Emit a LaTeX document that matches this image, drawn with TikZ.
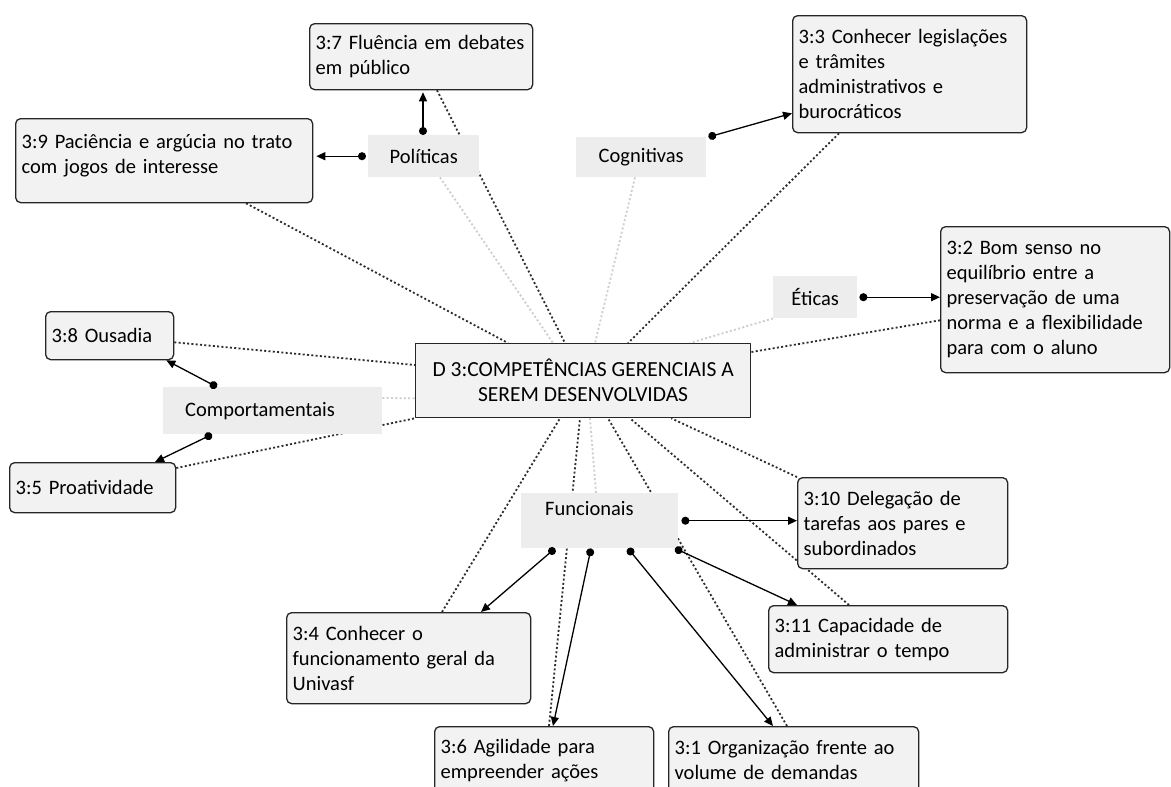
\documentclass[tikz,border=0pt]{standalone}
\usepackage{fontspec}
\setmainfont{Carlito}
\usetikzlibrary{arrows.meta,backgrounds}
\definecolor{mapafill}{RGB}{242,242,242}
\definecolor{mapacat}{RGB}{237,237,237}
\definecolor{mapadot}{RGB}{45,45,45}
\definecolor{mapalight}{RGB}{205,205,205}

\begin{document}
\begin{tikzpicture}[x=1pt,y=-1pt,line cap=round,line join=round,
  conceito/.style={draw=black!85,line width=1.3pt,rounded corners=5pt,fill=mapafill,
    anchor=north west,align=left,inner xsep=6pt,inner ysep=0pt,
    font={\fontsize{20.5}{25}\selectfont\hyphenpenalty=10000\relax}},
  categoria/.style={fill=mapacat,anchor=north west,inner sep=0pt,
    font=\fontsize{20.5}{25}\selectfont},
  ligacao/.style={black,line width=1.3pt,{Circle[length=8pt]}-{Triangle[length=9pt,width=8pt]}},
  pontilhado/.style={mapadot,line width=1.8pt,line cap=butt,dash pattern=on 2pt off 2.3pt},
  claro/.style={mapalight,line width=1.8pt,line cap=butt,dash pattern=on 2pt off 2.3pt}]
\useasboundingbox (0,0) rectangle (1171,787);
% Pojęcie centralne i kategorie.
\node[draw=black!85,line width=1.3pt,fill=mapafill,anchor=north west,minimum width=335,
  minimum height=74,align=center,font=\fontsize{21.5}{25}\selectfont] (cen) at (415,343)
  {D 3:COMPETÊNCIAS GERENCIAIS A\\SEREM DESENVOLVIDAS};
\node[categoria,minimum width=111,minimum height=42] (pol) at (368,135) {Políticas};
\node[categoria,minimum width=130,minimum height=40] (cog) at (576,137) {Cognitivas};
\node[categoria,minimum width=84,minimum height=42] (eti) at (773,276) {Éticas};
\node[categoria,inner xsep=22pt,text width=175pt,minimum height=47] (com) at (163,387) {Comportamentais};
\node[categoria,inner xsep=24pt,text width=109pt,text height=22pt,text depth=33pt] (fun) at (521,493) {Funcionais};
% Kompetencje.
\node[conceito,minimum width=223,minimum height=66,text width=211pt] (b37) at (309,23)
  {3:7 Fluência em debates\\em público};
\node[conceito,minimum width=297,minimum height=84,text width=285pt] (b39) at (15,118)
  {3:9 Paciência e argúcia no trato\\com jogos de interesse\\[-12pt]\mbox{}};
\node[conceito,minimum width=234,minimum height=117,text width=222pt] (b33) at (792,15)
  {3:3 Conhecer legislações\\e trâmites\\administrativos e\\burocráticos};
\node[conceito,minimum width=229,minimum height=146,text width=217pt] (b32) at (940,226)
  {3:2 Bom senso no\\equilíbrio entre a\\preservação de uma\\norma e a flexibilidade\\para com o aluno};
\node[conceito,minimum width=128,minimum height=48,text width=116pt] (b38) at (45,311) {3:8 Ousadia};
\node[conceito,minimum width=166,minimum height=50,text width=154pt] (b35) at (9,462) {3:5 Proatividade};
\node[conceito,minimum width=210,minimum height=91,text width=198pt] (b310) at (797,477)
  {3:10 Delegação de\\tarefas aos pares e\\subordinados};
\node[conceito,minimum width=239,minimum height=67,text width=227pt] (b311) at (768,605)
  {3:11 Capacidade de\\administrar o tempo};
\node[conceito,minimum width=244,minimum height=91,text width=232pt] (b34) at (286,612)
  {3:4 Conhecer o\\funcionamento geral da\\Univasf};
\node[conceito,minimum width=219,minimum height=67,text width=207pt] (b36) at (434,726)
  {3:6 Agilidade para\\empreender ações};
\node[conceito,minimum width=250,minimum height=67,text width=238pt] (b31) at (668,726)
  {3:1 Organização frente ao\\volume de demandas};
% Linie kropkowane do pojęcia centralnego (pod spodem).
\begin{scope}[on background layer]
\fill[white] (0,0) rectangle (1171,787);
\draw[pontilhado] ([xshift=128]b37.south west) -- ([xshift=150]cen.north west);
\draw[claro] ([xshift=72]pol.south west) -- ([xshift=138]cen.north west);
\draw[pontilhado] ([xshift=231]b39.south west) -- ([xshift=93]cen.north west);
\draw[claro] ([xshift=59]cog.south west) -- ([xshift=180]cen.north west);
\draw[pontilhado] ([xshift=47]b33.south west) -- ([xshift=213]cen.north west);
\draw[claro] (eti.south west) -- ([xshift=275]cen.north west);
\draw[pontilhado] ([yshift=53]b32.south west) -- ([yshift=-9]cen.north east);
\draw[pontilhado] ([yshift=18]b38.south east) -- ([yshift=-22]cen.north west);
\draw[claro] ([yshift=-11]com.north east) -- ([yshift=20]cen.south west);
\draw[pontilhado] ([yshift=-6]b35.north east) -- (cen.south west);
\draw[pontilhado] ([xshift=156]b34.north west) -- ([xshift=145]cen.south west);
\draw[pontilhado] ([xshift=115]b36.north west) -- ([xshift=165]cen.south west);
\draw[claro] ([xshift=75]fun.north west) -- ([xshift=175]cen.south west);
\draw[pontilhado] ([xshift=119]b31.north west) -- ([xshift=193]cen.south west);
\draw[pontilhado] ([xshift=81]b311.north west) -- ([xshift=215]cen.south west);
\draw[pontilhado] (b310.north west) -- ([xshift=-80]cen.south east);
\end{scope}
% Strzałki od kategorii do kompetencji.
\draw[ligacao] ([xshift=-2]pol.west) -- ([xshift=3]b39.east |- pol.west);
\draw[ligacao] ([xshift=55]pol.north west) -- ([xshift=114,yshift=-2]b37.south west);
\draw[ligacao] ([xshift=2]cog.north east) -- ([yshift=20]b33.south west);
\draw[ligacao] ([xshift=2]eti.east) -- (b32.west |- eti.east);
\draw[ligacao] ([xshift=54]com.north west) -- ([xshift=-8]b38.south east);
\draw[ligacao] ([xshift=49]com.south west) -- ([xshift=146]b35.north west);
\draw[ligacao] ([xshift=3]fun.east) -- (b310.west |- fun.east);
\draw[ligacao] ([xshift=34]fun.south west) -- ([xshift=195]b34.north west);
\draw[ligacao] ([xshift=70]fun.south west) -- ([xshift=119]b36.north west);
\draw[ligacao] ([xshift=107]fun.south west) -- ([xshift=105]b31.north west);
\draw[ligacao] ([xshift=154]fun.south west) -- ([xshift=29]b311.north west);
\end{tikzpicture}
\end{document}
